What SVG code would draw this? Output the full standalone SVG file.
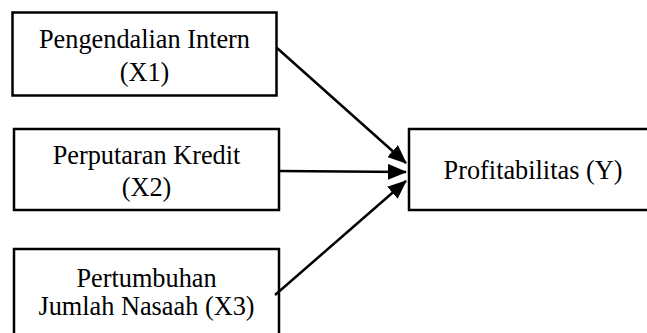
<svg xmlns="http://www.w3.org/2000/svg" width="647" height="333" viewBox="0 0 647 333">
<style>
.box{fill:#fff;stroke:#000;stroke-width:2.5}
.t{font-family:"Liberation Serif","Times New Roman",serif;font-size:26.3px;fill:#000;text-anchor:middle}
.c{stroke:#000;stroke-width:2.5;fill:none;marker-end:url(#ah)}
</style>
<defs>
<marker id="ah" markerUnits="userSpaceOnUse" markerWidth="20" markerHeight="16" refX="18" refY="8" orient="auto">
<path d="M0,0 L19,8 L0,16 Z" fill="#000"/>
</marker>
</defs>
<rect width="647" height="333" fill="#fff"/>
<g id="x1">
<rect class="box" x="12.5" y="12.5" width="264" height="83"/>
<text class="t" x="144.5" y="48">Pengendalian Intern</text>
<text class="t" x="144.5" y="81">(X1)</text>
</g>
<g id="x2">
<rect class="box" x="14" y="129" width="265" height="81"/>
<text class="t" x="146.5" y="164">Perputaran Kredit</text>
<text class="t" x="146.5" y="196">(X2)</text>
</g>
<g id="x3">
<rect class="box" x="14" y="249" width="265" height="95"/>
<text class="t" x="146.5" y="287">Pertumbuhan</text>
<text class="t" x="146.5" y="315">Jumlah Nasaah (X3)</text>
</g>
<g id="y">
<rect class="box" x="409" y="129" width="250" height="81"/>
<text class="t" x="533" y="179">Profitabilitas (Y)</text>
</g>
<g id="connectors">
<line class="c" x1="277" y1="48" x2="406" y2="163"/>
<line class="c" x1="279" y1="171" x2="406" y2="172"/>
<line class="c" x1="275" y1="295" x2="406" y2="181"/>
</g>
</svg>
